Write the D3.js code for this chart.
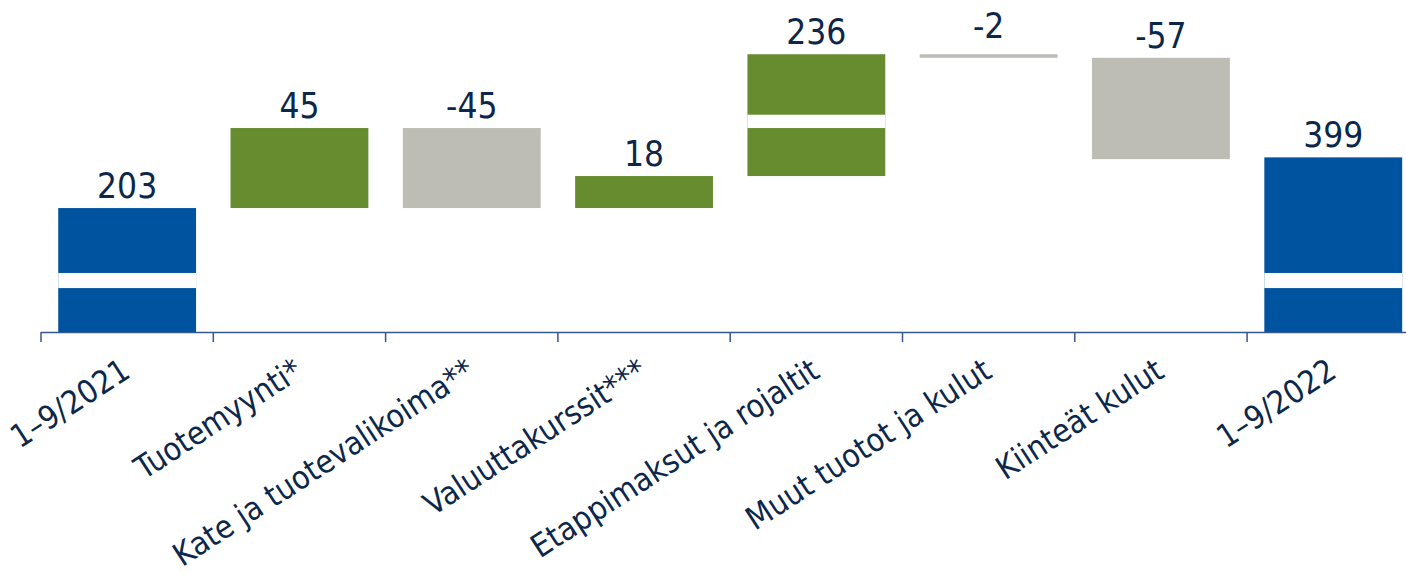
<!DOCTYPE html>
<html><head><meta charset="utf-8">
<script src="https://cdn.jsdelivr.net/npm/d3@7"></script>
<style>
body{margin:0;background:#fff;}
svg text{font-family:"DejaVu Sans Condensed","DejaVu Sans",sans-serif;font-stretch:condensed;}
</style>
</head><body>
<svg id="chart" width="1406" height="575"></svg>
<script>
// ---- data ----
const categories = ["1–9/2021","Tuotemyynti*","Kate ja tuotevalikoima**","Valuuttakurssit***","Etappimaksut ja rojaltit","Muut tuotot ja kulut","Kiinteät kulut","1–9/2022"];
const values = [203, 45, -45, 18, 236, -2, -57, 399];
const kinds = ["total","up","down","up","up","down","down","total"];
const valueLabels = ["203","45","-45","18","236","-2","-57","399"];

// broken value axis: values above BREAK_FROM are drawn shifted down by BREAK_CUT
const BREAK_FROM = 300;
const BREAK_CUT = 167.5;
const Y_DOMAIN = [133.3, 320];
// white break stripes (value units, in display scale)
const breakBars = [0, 4, 7];
const breakLo = [158, 248, 158];
const breakHi = [166.5, 255.5, 166.5];

// ---- style ----
const colors = {total:"#00549F", up:"#678C2F", down:"#BDBDB6"};
const textColor = "#0C2749";
const axisColor = "#36578F";

const svg = d3.select("#chart");
const W = 1406, H = 575;
svg.append("rect").attr("width",W).attr("height",H).attr("fill","#fff");

const axisY = 332;
const step = 172.3;
const x = d3.scaleBand().domain(categories).range([41, 41 + categories.length*step])
  .paddingInner(0.2).paddingOuter(0.1);
const y = d3.scaleLinear().domain(Y_DOMAIN).range([axisY, 0]).clamp(true);
const disp = v => v > BREAK_FROM ? v - BREAK_CUT : v;
const Y = v => y(disp(v));

// waterfall extents
let cum = 0;
const bars = categories.map((c,i) => {
  let lo, hi;
  if (kinds[i] === "total") { lo = 0; hi = values[i]; cum = values[i]; }
  else { const s = cum; cum += values[i]; lo = Math.min(s, cum); hi = Math.max(s, cum); }
  return {c, i, lo, hi, kind: kinds[i], label: valueLabels[i]};
});

const g = svg.append("g");
g.selectAll("rect.bar").data(bars).join("rect")
  .attr("class","bar")
  .attr("x", d => x(d.c))
  .attr("width", x.bandwidth())
  .attr("y", d => Y(d.hi))
  .attr("height", d => Y(d.lo) - Y(d.hi))
  .attr("fill", d => colors[d.kind]);

// break stripes
g.selectAll("rect.brk").data(breakBars).join("rect")
  .attr("class","brk")
  .attr("x", (b) => x(categories[b]))
  .attr("width", x.bandwidth())
  .attr("y", (b,j) => y(breakHi[j]))
  .attr("height", (b,j) => y(breakLo[j]) - y(breakHi[j]))
  .attr("fill", "#fff");

// value labels
g.selectAll("text.val").data(bars).join("text")
  .attr("class","val")
  .attr("x", d => x(d.c) + x.bandwidth()/2)
  .attr("y", d => {
    const top = Y(d.hi), h = Y(d.lo) - Y(d.hi);
    return top - 10 - Math.max(0, 10 - h);
  })
  .attr("text-anchor","middle")
  .attr("font-size", 35)
  .attr("fill", textColor)
  .text(d => d.label);

// axis line + ticks at category boundaries
const r0 = x.range()[0];
svg.append("line").attr("x1", r0).attr("x2", x.range()[1])
  .attr("y1", axisY + 0.5).attr("y2", axisY + 0.5)
  .attr("stroke", axisColor).attr("stroke-width", 1.5);
svg.selectAll("line.tick").data(d3.range(categories.length + 1)).join("line")
  .attr("class","tick")
  .attr("x1", i => r0 + i*x.step()).attr("x2", i => r0 + i*x.step())
  .attr("y1", axisY).attr("y2", axisY + 10)
  .attr("stroke", axisColor).attr("stroke-width", 1.5);

// category labels
svg.selectAll("text.cat").data(categories).join("text")
  .attr("class","cat")
  .attr("transform", c => `translate(${x(c) + x.bandwidth()/2 + 5},376) rotate(-33)`)
  .attr("text-anchor","end")
  .attr("font-size", 32)
  .attr("fill", textColor)
  .text(c => c);
</script>
</body></html>
